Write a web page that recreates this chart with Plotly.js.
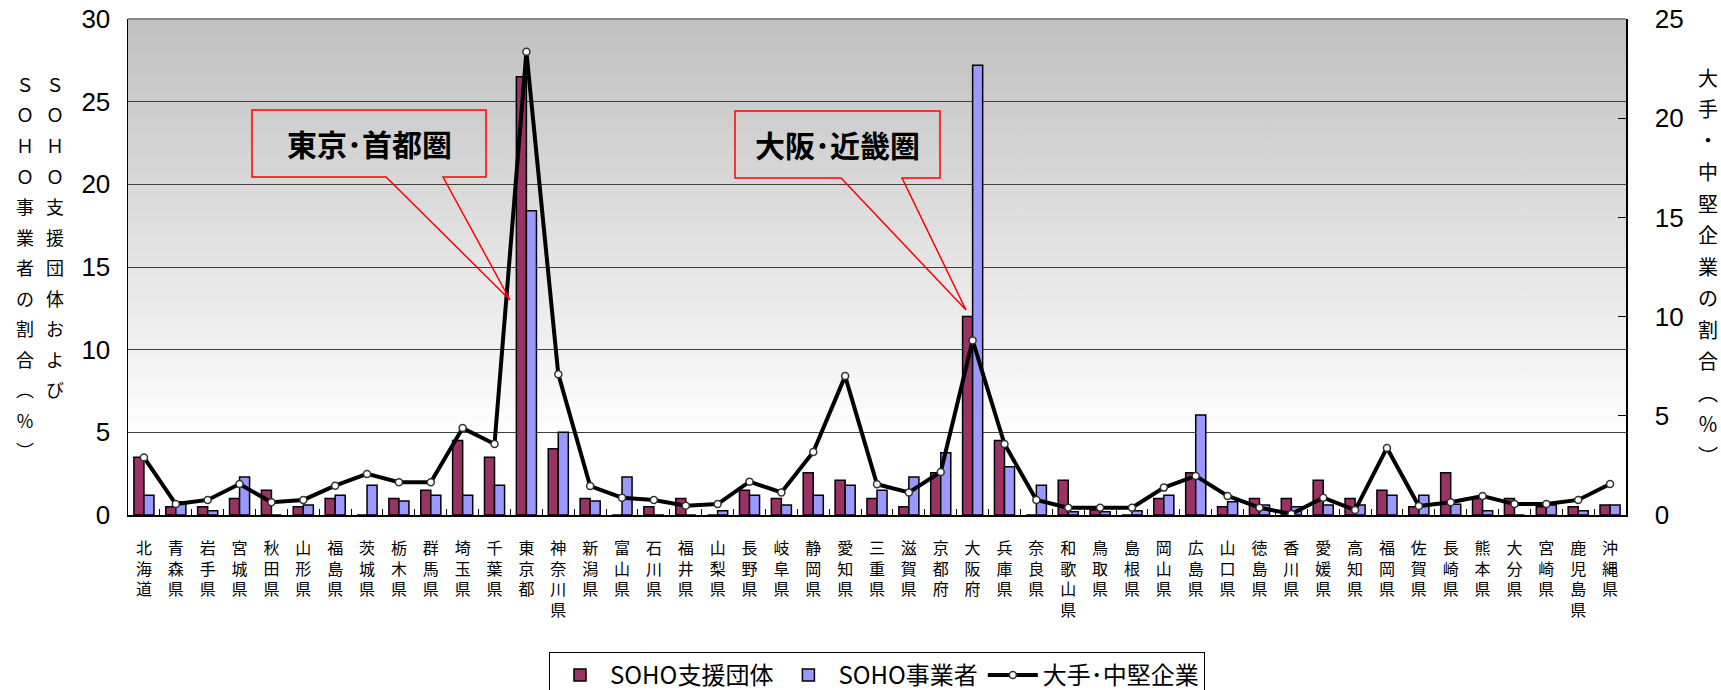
<!DOCTYPE html>
<html>
<head>
<meta charset="utf-8">
<script src="https://cdn.plot.ly/plotly-3.0.1.min.js"></script>
<style>html,body{margin:0;padding:0;background:#fff;}#chart{width:1721px;height:690px;}</style>
</head>
<body>
<div id="chart"></div>
<script>
const prefectures = ['北海道','青森県','岩手県','宮城県','秋田県','山形県','福島県','茨城県','栃木県','群馬県','埼玉県','千葉県','東京都','神奈川県','新潟県','富山県','石川県','福井県','山梨県','長野県','岐阜県','静岡県','愛知県','三重県','滋賀県','京都府','大阪府','兵庫県','奈良県','和歌山県','鳥取県','島根県','岡山県','広島県','山口県','徳島県','香川県','愛媛県','高知県','福岡県','佐賀県','長崎県','熊本県','大分県','宮崎県','鹿児島県','沖縄県'];
const sohoSupport = [3.5,0.5,0.5,1.0,1.5,0.5,1.0,0,1.0,1.5,4.5,3.5,26.5,4.0,1.0,0,0.5,1.0,0,1.5,1.0,2.55,2.1,1.0,0.5,2.55,12.0,4.5,0,2.1,0.3,0,1.0,2.55,0.5,1.0,1.0,2.1,1.0,1.5,0.5,2.55,1.0,1.0,0.5,0.5,0.6];
const sohoWorkers = [1.2,0.8,0.25,2.3,0,0.6,1.2,1.8,0.85,1.2,1.2,1.8,18.4,5.0,0.85,2.3,0,0,0.25,1.2,0.6,1.2,1.8,1.5,2.3,3.77,27.2,2.92,1.8,0.2,0.2,0.25,1.2,6.05,0.8,0.6,0.5,0.6,0.6,1.2,1.2,0.65,0.25,0,0.6,0.25,0.6];
const largeFirms = [2.9,0.55,0.76,1.56,0.64,0.76,1.48,2.07,1.65,1.65,4.38,3.58,23.35,7.1,1.46,0.87,0.76,0.47,0.55,1.68,1.14,3.18,7.0,1.55,1.14,2.17,8.8,3.58,0.76,0.37,0.37,0.37,1.38,1.97,0.96,0.37,0.05,0.87,0.25,3.38,0.45,0.64,0.96,0.55,0.55,0.76,1.56];
const seriesNames = ['SOHO支援団体','SOHO事業者','大手･中堅企業'];
const leftTitleCol1 = 'ＳＯＨＯ事業者の割合︵％︶';
const leftTitleCol2 = 'ＳＯＨＯ支援団体および';
const rightTitle = '大手・中堅企業の割合︵％︶';
const callouts = ['東京･首都圏','大阪･近畿圏'];

const W = 1721, H = 690;
const L = 128, R = 1626, T = 19, B = 515;
const px = x => (x - L) / (R - L);
const py = y => (B - y) / (B - T);

const tickText = prefectures.map(p => p.split('').join('<br>'));
const cjk = '"Noto Sans CJK JP", sans-serif';
const num = '"Liberation Sans", Arial, sans-serif';

const traces = [
  {type:'bar', name:seriesNames[0], x:prefectures, y:sohoSupport,
   marker:{color:'#993366', line:{color:'#000', width:1.5}}},
  {type:'bar', name:seriesNames[1], x:prefectures, y:sohoWorkers,
   marker:{color:'#9999ff', line:{color:'#000', width:1.5}}},
  {type:'scatter', mode:'lines+markers', name:seriesNames[2], x:prefectures, y:largeFirms, yaxis:'y2',
   line:{color:'#000', width:4},
   marker:{symbol:'circle', size:7, color:'#fff', line:{color:'#333', width:1.5}}}
];

const annotations = [];
function vertical(str, x, y0, step, size){
  str.split('').forEach((ch, i) => {
    annotations.push({xref:'paper', yref:'paper', x:px(x), y:py(y0 + i*step), text:ch, showarrow:false,
      xanchor:'center', yanchor:'middle', font:{family:cjk, size:size, color:'#000'}});
  });
}
vertical(leftTitleCol1, 25, 84, 30.5, 18);
vertical(leftTitleCol2, 55, 84, 30.5, 18);
vertical(rightTitle, 1708, 77, 31.5, 20);

annotations.push({xref:'paper', yref:'paper', x:px(369), y:py(143), text:'<b>'+callouts[0]+'</b>', showarrow:false,
  xanchor:'center', yanchor:'middle', font:{family:cjk, size:30, color:'#000'}});
annotations.push({xref:'paper', yref:'paper', x:px(837), y:py(144), text:'<b>'+callouts[1]+'</b>', showarrow:false,
  xanchor:'center', yanchor:'middle', font:{family:cjk, size:30, color:'#000'}});

function bubble(x0, y0, x1, y1, bL, bR, tx, ty){
  const p = (x,y) => px(x).toFixed(5)+','+py(y).toFixed(5);
  return {type:'path', xref:'paper', yref:'paper', layer:'above',
    path:'M'+p(x0,y0)+' L'+p(x1,y0)+' L'+p(x1,y1)+' L'+p(bR,y1)+' L'+p(tx,ty)+' L'+p(bL,y1)+' L'+p(x0,y1)+' Z',
    line:{color:'#ff0000', width:1.5}, fillcolor:'rgba(0,0,0,0)'};
}

const svg = "<svg xmlns='http://www.w3.org/2000/svg' width='100' height='100' preserveAspectRatio='none'><defs><linearGradient id='g' x1='0' y1='0' x2='0' y2='1'><stop offset='0' stop-color='#c0c0c0'/><stop offset='0.85' stop-color='#ffffff'/><stop offset='1' stop-color='#ffffff'/></linearGradient></defs><rect width='100' height='100' fill='url(#g)'/></svg>";

const layout = {
  width:W, height:H, autosize:false,
  margin:{l:L, r:W-R, t:T, b:H-B, pad:0},
  paper_bgcolor:'#fff', plot_bgcolor:'rgba(0,0,0,0)',
  barmode:'group', bargap:0.37, bargroupgap:0,
  showlegend:true,
  legend:{orientation:'h', xref:'paper', x:0.5, xanchor:'center', yref:'container', y:(H-652)/H, yanchor:'top',
    itemwidth:50, bordercolor:'#000', borderwidth:1, bgcolor:'#fff', font:{family:cjk, size:24, color:'#000'}, traceorder:'normal'},
  images:[{source:'data:image/svg+xml;charset=utf-8,'+encodeURIComponent(svg), xref:'paper', yref:'paper',
    x:0, y:1, sizex:1, sizey:1, sizing:'stretch', xanchor:'left', yanchor:'top', layer:'below'}],
  xaxis:{type:'category', range:[-0.5, prefectures.length-0.5], autorange:false, tickmode:'array', tickvals:prefectures, ticktext:tickText,
    showline:true, linecolor:'#000', linewidth:1.5, ticks:'inside', tickson:'boundaries', ticklen:6, tickcolor:'#000',
    tickfont:{family:cjk, size:16, color:'#000'}, tickangle:0, ticklabelstandoff:18, showgrid:false, zeroline:false},
  yaxis:{range:[0,30], dtick:5, showline:true, linecolor:'#000', linewidth:1.5, ticks:'',
    showgrid:true, gridcolor:'#404040', gridwidth:1, zeroline:false,
    tickfont:{family:num, size:26, color:'#000'}, ticklabelstandoff:11},
  yaxis2:{range:[0,25], dtick:5, overlaying:'y', side:'right', showline:true, linecolor:'#000', linewidth:1.5,
    ticks:'inside', ticklen:8, tickcolor:'#000', showgrid:false, zeroline:false,
    tickfont:{family:num, size:26, color:'#000'}, ticklabelstandoff:22},
  shapes:[
    {type:'line', xref:'paper', yref:'paper', x0:0, x1:1, y0:1, y1:1, line:{color:'#888', width:2}},
    bubble(252,110,486,177,386,443,510,300),
    bubble(735,111,940,178,841,902,966,310)
  ],
  annotations:annotations
};

Plotly.newPlot('chart', traces, layout, {displayModeBar:false, staticPlot:true});
</script>
</body>
</html>
